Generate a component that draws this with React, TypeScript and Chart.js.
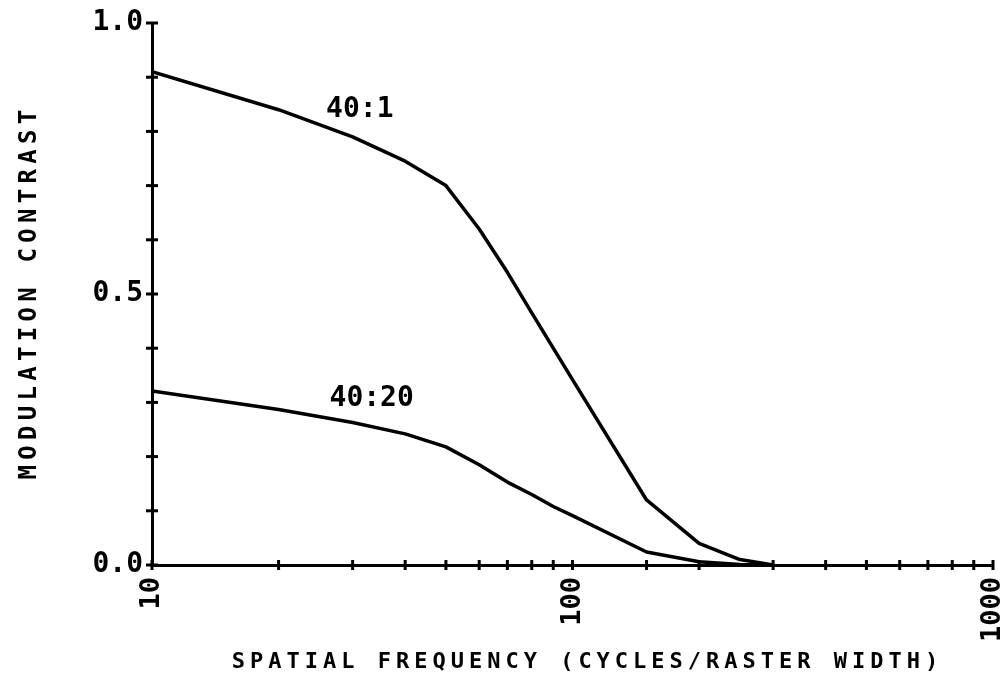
import React, { useEffect, useRef } from "react";
import { Chart, registerables } from "chart.js";

Chart.register(...registerables);

// ---- data ----
const frequencies = [10, 20, 30, 40, 50, 60, 70, 80, 90, 100, 150, 200, 250, 300];
const contrast40to1 = [0.91, 0.84, 0.79, 0.745, 0.7, 0.62, 0.54, 0.465, 0.4, 0.342, 0.12, 0.04, 0.01, 0.0];
const contrast40to20 = [0.321, 0.287, 0.263, 0.242, 0.218, 0.185, 0.153, 0.13, 0.108, 0.091, 0.024, 0.006, 0.001, 0.0];
const seriesNames = ["40:1", "40:20"];
const seriesLabelFreq = [31.2, 33.3];
const seriesLabelValue = [0.84, 0.306];
const yTickLabels = [0, 0.5, 1.0];
const xTickLabels = [10, 100, 1000];
const xTitle = "SPATIAL FREQUENCY (CYCLES/RASTER WIDTH)";
const yTitle = "MODULATION CONTRAST";

const FONT = "'DejaVu Sans Mono', 'Liberation Mono', monospace";

const decorPlugin = {
  id: "decor",
  afterDraw(chart: any) {
    const { ctx, scales, chartArea } = chart;
    const x = scales.x;
    const y = scales.y;
    ctx.save();
    ctx.strokeStyle = "#000";
    ctx.fillStyle = "#000";
    ctx.lineWidth = 3;
    ctx.lineCap = "butt";
    // crossing tick marks on y axis
    y.ticks.forEach((t: any) => {
      const py = y.getPixelForValue(t.value);
      ctx.beginPath();
      ctx.moveTo(chartArea.left - 6, py);
      ctx.lineTo(chartArea.left + 6, py);
      ctx.stroke();
    });
    // crossing tick marks on x axis
    x.ticks.forEach((t: any) => {
      const px = x.getPixelForValue(t.value);
      ctx.beginPath();
      ctx.moveTo(px, chartArea.bottom - 5);
      ctx.lineTo(px, chartArea.bottom + 5);
      ctx.stroke();
    });
    // series labels
    ctx.font = `bold 28px ${FONT}`;
    ctx.textAlign = "center";
    ctx.textBaseline = "middle";
    seriesNames.forEach((name, i) => {
      ctx.fillText(name, x.getPixelForValue(seriesLabelFreq[i]), y.getPixelForValue(seriesLabelValue[i]));
    });
    // axis titles
    (ctx as any).letterSpacing = "5px";
    ctx.font = `bold 22px ${FONT}`;
    ctx.textAlign = "center";
    ctx.textBaseline = "middle";
    ctx.fillText(xTitle, (chartArea.left + chartArea.right) / 2 + 15, 662);
    ctx.save();
    (ctx as any).letterSpacing = "5.3px";
    ctx.font = `bold 24px ${FONT}`;
    ctx.translate(30, 292);
    ctx.rotate(-Math.PI / 2);
    ctx.fillText(yTitle, 0, 0);
    ctx.restore();
    ctx.restore();
  },
};

export default function App() {
  const canvasRef = useRef<HTMLCanvasElement | null>(null);

  useEffect(() => {
    document.body.style.margin = "0";
    const canvas = canvasRef.current;
    if (!canvas) return;
    const chart = new Chart(canvas, {
      type: "line",
      data: {
        datasets: [
          {
            label: seriesNames[0],
            data: frequencies.map((f, i) => ({ x: f, y: contrast40to1[i] })),
            borderColor: "#000",
            borderWidth: 3.5,
            pointRadius: 0,
            tension: 0,
            borderJoinStyle: "round",
            fill: false,
          },
          {
            label: seriesNames[1],
            data: frequencies.map((f, i) => ({ x: f, y: contrast40to20[i] })),
            borderColor: "#000",
            borderWidth: 3.5,
            pointRadius: 0,
            tension: 0,
            borderJoinStyle: "round",
            fill: false,
          },
        ],
      },
      options: {
        animation: false,
        responsive: true,
        maintainAspectRatio: false,
        layout: { padding: { top: 23, right: 10, left: 0, bottom: 0 } },
        plugins: {
          legend: { display: false },
          tooltip: { enabled: false },
          title: { display: false },
        },
        scales: {
          x: {
            type: "logarithmic",
            min: 10,
            max: 1000,
            grid: { display: false, drawTicks: false },
            border: { display: true, color: "#000", width: 3 },
            ticks: {
              autoSkip: false,
              minRotation: 90,
              maxRotation: 90,
              padding: 12,
              color: "#000",
              font: { family: FONT, size: 27, weight: "bold" },
              callback: (v: any) => (xTickLabels.some((t) => Math.abs(t - Number(v)) < 1e-6) ? String(Number(v)) : ""),
            },
            afterFit: (scale: any) => {
              scale.height = 117;
              scale.paddingLeft = 0;
              scale.paddingRight = 0;
            },
          },
          y: {
            type: "linear",
            min: 0,
            max: 1,
            grid: { display: false, drawTicks: false },
            border: { display: true, color: "#000", width: 3 },
            ticks: {
              stepSize: 0.1,
              autoSkip: false,
              padding: 9,
              color: "#000",
              font: { family: FONT, size: 28, weight: "bold" },
              callback: (v: any) => (yTickLabels.some((t) => Math.abs(t - Number(v)) < 1e-6) ? Number(v).toFixed(1) : ""),
            },
            afterFit: (scale: any) => {
              scale.width = 152;
              scale.paddingTop = 0;
              scale.paddingBottom = 0;
            },
          },
        },
      } as any,
      plugins: [decorPlugin],
    });
    return () => chart.destroy();
  }, []);

  return (
    <div style={{ width: 1003, height: 682, position: "relative", background: "#fff" }}>
      <canvas ref={canvasRef} />
    </div>
  );
}
